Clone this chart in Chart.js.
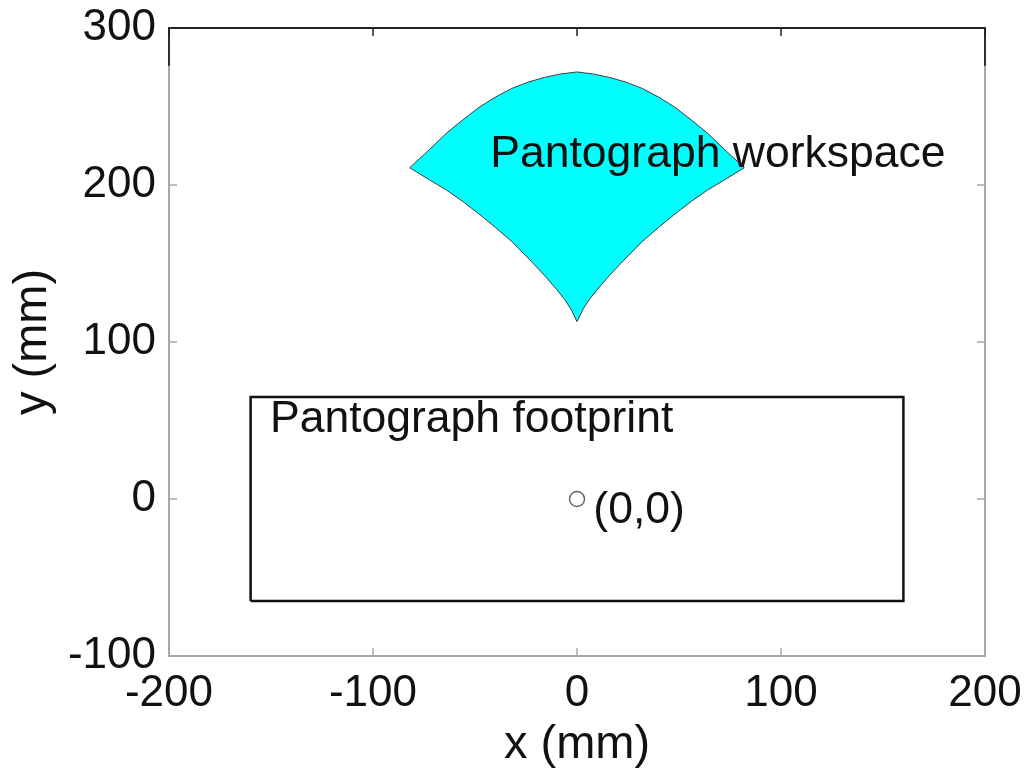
<!DOCTYPE html>
<html><head><meta charset="utf-8">
<script src="https://cdn.jsdelivr.net/npm/chart.js@4.4.1/dist/chart.umd.min.js"></script>
<style>html,body{margin:0;padding:0;background:#fff;}#wrap{width:1026px;height:771px;}</style>
</head><body><div id="wrap"><canvas id="c" width="1026" height="771"></canvas></div>
<script>
// axis ticks
const xTicks=[-200,-100,0,100,200];
const yTicks=[-100,0,100,200,300];
// workspace outline: upper edge left->right, lower edge right->left
const wsTopX=[-82,-72,-64,-56,-48,-40,-32,-24,-16,-8,0,8,16,24,32,40,48,56,64,72,82];
const wsTopY=[211,223,233,241.5,249.5,256,261.5,265.5,268.5,270.7,272,270.7,268.5,265.5,261.5,256,249.5,241.5,233,223,211];
const wsBotX=[82,72,64,56,48,40,32,24,16,10,6,3,0,-3,-6,-10,-16,-24,-32,-40,-48,-56,-64,-72,-82];
const wsBotY=[211,203,196.8,189.5,181.5,173,164,153.5,142.5,133.5,127,121,113,121,127,133.5,142.5,153.5,164,173,181.5,189.5,196.8,203,211];
// footprint rectangle
const footX=[-160,160,160,-160,-160];
const footY=[-65,-65,65,65,-65];
// origin marker
const originX=[0], originY=[0];
// text annotations (data coords, left/baseline)
const labelText=['Pantograph workspace','Pantograph footprint','(0,0)'];
const labelX=[-42.5,-150.5,8];
const labelY=[211.5,42.7,-15];
const frameBlackFrom=276;

const FONT='"Liberation Sans", Arial, Helvetica, sans-serif';
const pts=(xs,ys)=>xs.map((x,i)=>({x,y:ys[i]}));
const wsX=wsTopX.concat(wsBotX.slice(1)), wsY=wsTopY.concat(wsBotY.slice(1));

const decor={
  id:'decor',
  afterDatasetsDraw(chart){
    const {ctx,chartArea:a,scales:{x,y}}=chart;
    ctx.save();
    // gray box
    ctx.strokeStyle='#a8a8a8';ctx.lineWidth=2;
    ctx.strokeRect(a.left,a.top,a.right-a.left,a.bottom-a.top);
    // inward ticks
    ctx.lineWidth=1.5;
    xTicks.forEach(v=>{const px=x.getPixelForValue(v);
      ctx.strokeStyle='#a8a8a8';ctx.beginPath();ctx.moveTo(px,a.bottom);ctx.lineTo(px,a.bottom-8);ctx.stroke();
      ctx.strokeStyle='#222';ctx.beginPath();ctx.moveTo(px,a.top);ctx.lineTo(px,a.top+8);ctx.stroke();});
    yTicks.forEach(v=>{const py=y.getPixelForValue(v);
      ctx.strokeStyle='#a8a8a8';ctx.beginPath();ctx.moveTo(a.left,py);ctx.lineTo(a.left+8,py);
      ctx.moveTo(a.right,py);ctx.lineTo(a.right-8,py);ctx.stroke();});
    // black upper frame part
    const yb=y.getPixelForValue(frameBlackFrom);
    ctx.strokeStyle='#222';ctx.lineWidth=1.8;
    ctx.beginPath();ctx.moveTo(a.left,yb);ctx.lineTo(a.left,a.top);ctx.lineTo(a.right,a.top);ctx.lineTo(a.right,yb);ctx.stroke();
    // labels
    ctx.fillStyle='#111';ctx.font='44.5px '+FONT;ctx.textAlign='left';ctx.textBaseline='alphabetic';
    labelText.forEach((t,i)=>ctx.fillText(t,x.getPixelForValue(labelX[i]),y.getPixelForValue(labelY[i])));
    ctx.restore();
  }
};

new Chart(document.getElementById('c'),{
  type:'scatter',
  data:{datasets:[
    {data:pts(wsX,wsY),showLine:true,fill:'shape',backgroundColor:'#00ffff',borderColor:'#3c3c3c',borderWidth:1,pointRadius:0,tension:0},
    {data:pts(footX,footY),showLine:true,fill:false,borderColor:'#111',borderWidth:2.5,pointRadius:0,tension:0},
    {data:pts(originX,originY),showLine:false,pointRadius:7.5,pointStyle:'circle',borderColor:'#666',borderWidth:1.5,backgroundColor:'rgba(0,0,0,0)'}
  ]},
  options:{
    responsive:false,animation:false,
    layout:{padding:{left:0,right:41,top:28,bottom:0}},
    plugins:{legend:{display:false},tooltip:{enabled:false}},
    scales:{
      x:{type:'linear',min:-200,max:200,
        afterBuildTicks:s=>{s.ticks=xTicks.map(v=>({value:v}));},
        afterFit:s=>{s.height=115;s.paddingLeft=0;s.paddingRight=0;},
        grid:{display:false,drawTicks:false},border:{display:false},
        ticks:{color:'#111',font:{family:FONT,size:44},padding:11,maxRotation:0,autoSkip:false},
        title:{display:true,text:'x (mm)',color:'#111',font:{family:FONT,size:47,lineHeight:1.1},padding:{top:0,bottom:0}}},
      y:{type:'linear',min:-100,max:300,
        afterBuildTicks:s=>{s.ticks=yTicks.map(v=>({value:v}));},
        afterFit:s=>{s.width=169;s.paddingTop=0;s.paddingBottom=0;},
        grid:{display:false,drawTicks:false},border:{display:false},
        ticks:{color:'#111',font:{family:FONT,size:44},padding:13,autoSkip:false},
        title:{display:true,text:'y (mm)',color:'#111',font:{family:FONT,size:47},padding:{top:5,bottom:0}}}
    }
  },
  plugins:[decor]
});
</script></body></html>
